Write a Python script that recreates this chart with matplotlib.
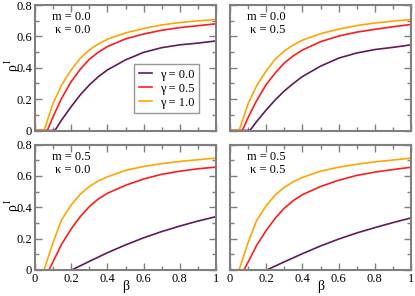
import matplotlib
matplotlib.use("Agg")
import matplotlib.pyplot as plt
from matplotlib.ticker import MultipleLocator, FuncFormatter

plt.rcParams["font.family"] = ["Liberation Serif", "DejaVu Serif"]

# panel parameters (m, kappa)
panels = [("0.0", "0.0"), ("0.0", "0.5"), ("0.5", "0.0"), ("0.5", "0.5")]
gammas = ["0.0", "0.5", "1.0"]
colors = ["#5e1a5a", "#ff1c1c", "#ffa500"]

beta_tl = [
    [0, 0.11, 0.147, 0.2, 0.25, 0.3, 0.35, 0.4, 0.5, 0.6, 0.7, 0.8, 0.9, 1.0],
    [0, 0.068, 0.1, 0.147, 0.2, 0.25, 0.3, 0.35, 0.4, 0.5, 0.6, 0.7, 0.8, 0.9, 1.0],
    [0, 0.05, 0.1, 0.147, 0.2, 0.25, 0.3, 0.35, 0.4, 0.5, 0.6, 0.7, 0.8, 0.9, 1.0],
]
rho_tl = [
    [0, 0, 0.067, 0.152, 0.227, 0.29, 0.343, 0.386, 0.45, 0.498, 0.528, 0.546, 0.557, 0.571],
    [0, 0, 0.088, 0.205, 0.312, 0.39, 0.454, 0.499, 0.535, 0.584, 0.615, 0.639, 0.656, 0.668, 0.680],
    [0, 0, 0.173, 0.29, 0.386, 0.46, 0.514, 0.552, 0.582, 0.622, 0.650, 0.673, 0.688, 0.699, 0.707],
]

beta_tr = beta_tl
rho_tr = [
    [0, 0, 0.057, 0.131, 0.195, 0.252, 0.300, 0.344, 0.410, 0.461, 0.494, 0.516, 0.530, 0.546],
    [0, 0, 0.083, 0.19, 0.293, 0.367, 0.43, 0.476, 0.513, 0.566, 0.602, 0.627, 0.645, 0.661, 0.676],
    [0, 0, 0.17, 0.285, 0.38, 0.455, 0.507, 0.545, 0.576, 0.617, 0.646, 0.669, 0.685, 0.697, 0.707],
]

beta_bl = [
    [0, 0.203, 0.3, 0.4, 0.5, 0.6, 0.7, 0.8, 0.9, 1.0],
    [0, 0.077, 0.1, 0.147, 0.2, 0.25, 0.3, 0.35, 0.4, 0.5, 0.6, 0.7, 0.8, 0.9, 1.0],
    [0, 0.05, 0.1, 0.147, 0.2, 0.25, 0.3, 0.35, 0.4, 0.5, 0.6, 0.7, 0.8, 0.9, 1.0],
]
rho_bl = [
    [0, 0, 0.055, 0.11, 0.16, 0.205, 0.245, 0.28, 0.312, 0.34],
    [0, 0, 0.053, 0.164, 0.262, 0.34, 0.404, 0.453, 0.489, 0.54, 0.58, 0.61, 0.63, 0.645, 0.656],
    [0, 0, 0.177, 0.32, 0.415, 0.483, 0.532, 0.568, 0.594, 0.635, 0.66, 0.678, 0.692, 0.703, 0.713],
]

beta_br = beta_bl
rho_br = [
    [0, 0, 0.052, 0.104, 0.153, 0.197, 0.236, 0.27, 0.302, 0.332],
    [0, 0, 0.05, 0.157, 0.252, 0.33, 0.394, 0.443, 0.48, 0.532, 0.572, 0.603, 0.624, 0.64, 0.655],
    [0, 0, 0.175, 0.315, 0.41, 0.478, 0.527, 0.563, 0.59, 0.63, 0.655, 0.674, 0.689, 0.701, 0.713],
]

all_beta = [beta_tl, beta_tr, beta_bl, beta_br]
all_rho = [rho_tl, rho_tr, rho_bl, rho_br]

fig = plt.figure(figsize=(4.15, 2.96), dpi=100)
W, H = 415.0, 296.0
# panel boxes in pixels: left, top, right, bottom
boxes = [(35, 5, 216, 130.5), (230, 5, 411, 130.5),
         (35, 144.5, 216, 270), (230, 144.5, 411, 270)]

frame = "#7f7f7f"


def g_fmt(v, pos):
    return "%g" % v


for i, (x0, y0, x1, y1) in enumerate(boxes):
    ax = fig.add_axes([x0 / W, 1 - y1 / H, (x1 - x0) / W, (y1 - y0) / H])
    for j in range(3):
        ax.plot(all_beta[i][j], all_rho[i][j], color=colors[j], lw=1.2,
                label="γ = " + gammas[j])
    ax.set_xlim(0, 1)
    ax.set_ylim(0, 0.8)
    ax.xaxis.set_major_locator(MultipleLocator(0.2))
    ax.xaxis.set_minor_locator(MultipleLocator(0.1))
    ax.yaxis.set_major_locator(MultipleLocator(0.2))
    ax.yaxis.set_minor_locator(MultipleLocator(0.1))
    ax.xaxis.set_major_formatter(FuncFormatter(g_fmt))
    ax.yaxis.set_major_formatter(FuncFormatter(g_fmt))
    ax.tick_params(which="both", direction="in", top=True, right=True,
                   color=frame, width=1, labelsize=9, pad=2)
    ax.tick_params(which="major", length=5)
    ax.tick_params(which="minor", length=3)
    for s in ax.spines.values():
        s.set_color(frame)
        s.set_linewidth(1.5)
    if i % 2 == 1:
        ax.tick_params(labelleft=False)
    else:
        # rho with a small raised "I", both rotated like a y label
        ax.text(-0.125, 0.5, "ρ", rotation=90, ha="center", va="center",
                fontsize=10, transform=ax.transAxes)
        ax.text(-0.148, 0.55, "I", rotation=90, ha="center", va="center",
                fontsize=7, transform=ax.transAxes)
    if i < 2:
        ax.tick_params(labelbottom=False)
    else:
        xl = ax.set_xlabel("β", fontsize=10)
        xl.set_va("center")
        ax.xaxis.set_label_coords(0.5, -0.135)
    m, k = panels[i]
    ax.text(0.2, 0.95, "m = " + m + "\nκ = " + k, ha="center", va="top",
            multialignment="right", fontsize=9, linespacing=1.1,
            transform=ax.transAxes)
    if i == 0:
        leg = ax.legend(loc="lower right", bbox_to_anchor=(0.905, 0.14),
                        fontsize=9, frameon=True, fancybox=False,
                        handlelength=1.05, handletextpad=0.65,
                        borderpad=0.35, labelspacing=0.15, borderaxespad=0)
        leg.get_frame().set_edgecolor(frame)
        leg.get_frame().set_linewidth(1.0)

fig.savefig("out.png", dpi=100, facecolor="white")
